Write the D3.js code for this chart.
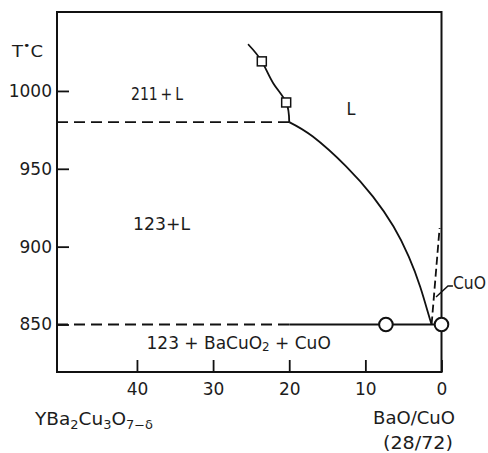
<!DOCTYPE html>
<html>
<head>
<meta charset="utf-8">
<script src="https://cdn.jsdelivr.net/npm/d3@7"></script>
<style>
  body { margin: 0; background: #fff; }
  svg text { font-family: "DejaVu Sans", sans-serif; fill: #1c1c1c; }
</style>
</head>
<body>
<svg id="chart"></svg>
<script>
// values (x = BaO/CuO content, T in deg C)
const xTicks = [40, 30, 20, 10, 0];
const yTicks = [1000, 950, 900, 850];

const liquidusX = [20.0, 16.9, 12.5, 9.0, 6.3, 4.3, 2.8, 1.75, 1.3];
const liquidusT = [980, 970.7, 951.4, 932.1, 912.9, 893.6, 874.3, 857.2, 850];

const upperX = [25.4, 23.6, 22.1, 20.4, 20.0];
const upperT = [1030, 1019, 1005, 992.6, 980];

const squareX = [23.6, 20.4];
const squareT = [1019, 992.6];

const circleX = [7.3, 0];
const circleT = [850, 850];

const cuoX = [1.3, 0.25];
const cuoT = [850, 912];

const isoT = [980, 850];       // isotherms
const eutecticX = 20;          // dashed -> solid split
const leaderX = [0.72, -0.85, -1.5];
const leaderT = [867.7, 874.7, 874.7];

const width = 488, height = 453;
const svg = d3.select('#chart').attr('width', width).attr('height', height);

const x = d3.scaleLinear().domain([50.5, 0]).range([57, 441.5]);
const y = d3.scaleLinear().domain([819.5, 1050.7]).range([372, 12]);

svg.append('rect')
  .attr('x', x(50.5)).attr('y', y(1050.7))
  .attr('width', x(0) - x(50.5)).attr('height', y(819.5) - y(1050.7))
  .attr('fill', 'none').attr('stroke', '#111').attr('stroke-width', 2);

const xAxis = g => g
  .attr('transform', `translate(0,${y(819.5)})`)
  .call(d3.axisBottom(x).tickValues(xTicks).tickFormat(d3.format('d'))
    .tickSizeInner(-12).tickSizeOuter(0).tickPadding(11))
  .call(g => g.select('.domain').remove());
const yAxis = g => g
  .attr('transform', `translate(${x(50.5)},0)`)
  .call(d3.axisLeft(y).tickValues(yTicks).tickFormat(d3.format('d'))
    .tickSizeInner(-12).tickSizeOuter(0).tickPadding(5))
  .call(g => g.select('.domain').remove());

svg.append('g').call(xAxis);
svg.append('g').call(yAxis);
svg.selectAll('.tick line').attr('stroke', '#111').attr('stroke-width', 1.8);
svg.selectAll('.tick text').attr('font-size', 17).attr('fill', '#1c1c1c')
  .attr('font-family', '"DejaVu Sans", sans-serif');

const line = d3.line().x(d => x(d[0])).y(d => y(d[1])).curve(d3.curveNatural);
const straight = d3.line().x(d => x(d[0])).y(d => y(d[1]));

// dashed isotherms
svg.append('g')
  .selectAll('path')
  .data(isoT)
  .join('path')
  .attr('d', t => straight([[50.5, t], [eutecticX, t]]))
  .attr('fill', 'none').attr('stroke', '#111').attr('stroke-width', 1.8)
  .attr('stroke-dasharray', '11,6');

// solid eutectic segment
svg.append('path')
  .attr('d', straight([[eutecticX, isoT[1]], [0, isoT[1]]]))
  .attr('fill', 'none').attr('stroke', '#111').attr('stroke-width', 1.8);

// liquidus
svg.append('path')
  .attr('d', line(d3.zip(liquidusX, liquidusT)))
  .attr('fill', 'none').attr('stroke', '#111').attr('stroke-width', 1.8);

svg.append('path')
  .attr('d', line(d3.zip(upperX, upperT)))
  .attr('fill', 'none').attr('stroke', '#111').attr('stroke-width', 1.8);

// CuO dashed boundary
svg.append('path')
  .attr('d', straight(d3.zip(cuoX, cuoT)))
  .attr('fill', 'none').attr('stroke', '#111').attr('stroke-width', 1.8)
  .attr('stroke-dasharray', '8,4');

svg.append('path')
  .attr('d', straight(d3.zip(leaderX, leaderT)))
  .attr('fill', 'none').attr('stroke', '#111').attr('stroke-width', 1.5);

svg.append('g')
  .selectAll('rect')
  .data(d3.zip(squareX, squareT))
  .join('rect')
  .attr('x', d => x(d[0]) - 4.5).attr('y', d => y(d[1]) - 4.5)
  .attr('width', 9).attr('height', 9)
  .attr('fill', '#fff').attr('stroke', '#111').attr('stroke-width', 1.5);

svg.append('g')
  .selectAll('circle')
  .data(d3.zip(circleX, circleT))
  .join('circle')
  .attr('cx', d => x(d[0])).attr('cy', d => y(d[1]))
  .attr('r', 6.8)
  .attr('fill', '#fff').attr('stroke', '#111').attr('stroke-width', 2);

// labels
function label(px, py, parts, size, len) {
  const t = svg.append('text').attr('x', px).attr('y', py).attr('font-size', size);
  parts.forEach(p => {
    const s = t.append('tspan').text(p.t);
    if (p.sub) s.attr('font-size', size * 0.7).attr('dy', p.sub);
    if (p.back) s.attr('dy', p.back);
  });
  if (len) t.attr('textLength', len).attr('lengthAdjust', 'spacingAndGlyphs');
  return t;
}

label(12, 57, [{t: 'T'}, {t: '•', sub: -8}, {t: 'C', back: 8}], 15, 31);
label(131, 99.5, [{t: '211\u2009+\u2009L'}], 17, 52);
label(346.5, 115, [{t: 'L'}], 17, 9);
label(133, 230, [{t: '123+L'}], 17, 57);
label(146.5, 348.5, [{t: '123 + BaCuO'}, {t: '2', sub: 2}, {t: ' + CuO', back: -2}], 17);
label(453, 289, [{t: 'CuO'}], 17, 33);
label(35, 425, [{t: 'YBa'}, {t: '2', sub: 4}, {t: 'Cu', back: -4}, {t: '3', sub: 4},
  {t: 'O', back: -4}, {t: '7−δ', sub: 4}], 17, 118);
label(373, 424, [{t: 'BaO/CuO'}], 17, 82);
label(383, 449, [{t: '(28/72)'}], 17, 70);
</script>
</body>
</html>
